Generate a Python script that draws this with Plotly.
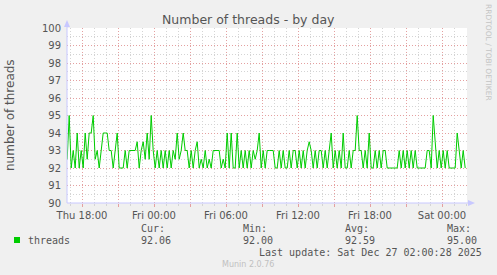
import plotly.graph_objects as go
import pandas as pd

# ---------------- data ----------------
start_time = "2025-12-25 16:46"
step = "10min"
threads = [
    92.5, 95, 92, 93, 92, 94, 92, 93, 92, 94, 92.5, 94, 94, 95, 92.5, 93, 92, 93, 94, 94,
    94, 93, 93, 92, 93, 94, 92, 92, 92, 93, 92, 93, 93, 93,
    93, 93.5, 92, 93, 93.5, 92.5, 94, 92.5, 95, 93, 92, 93, 92, 93, 92, 93, 92, 93, 92, 93,
    92.5, 94, 92.5, 93, 94, 93, 93, 92, 93, 92, 93, 93.5, 92, 92.5,
    92, 93, 92, 92.5, 92, 93, 93, 93, 93, 92, 92.5, 92, 94, 92, 94, 92, 92, 94, 92, 93,
    92, 93, 92, 93, 92, 93, 92.5, 93, 94, 92, 93, 92, 93, 93,
    93, 93, 92, 92, 93, 92, 93, 92, 92, 93, 92, 93, 93, 92, 93, 92, 93, 92, 93, 93.5,
    93, 92, 93, 92, 93, 93, 92, 93, 92, 93, 94, 92, 93, 92,
    93, 92, 94, 92, 92, 93, 92, 93, 93, 95, 93, 93, 92, 93, 92, 94, 92, 92, 93, 92,
    93, 92, 93, 93, 92, 92, 92, 92, 92, 92, 93, 92, 93, 92,
    93, 92, 93, 92, 93, 92, 92, 92, 92, 92, 93, 93, 92, 95, 93.5, 92, 93, 92, 93, 92,
    93, 92, 92, 92, 92, 94, 93, 92, 93, 92,
]
x_range = ["2025-12-25 16:45", "2025-12-27 02:05"]
tick_times = [
    "2025-12-25 18:00", "2025-12-25 21:00", "2025-12-26 00:00", "2025-12-26 03:00",
    "2025-12-26 06:00", "2025-12-26 09:00", "2025-12-26 12:00", "2025-12-26 15:00",
    "2025-12-26 18:00", "2025-12-26 21:00", "2025-12-27 00:00",
]
tick_labels = [
    "Thu 18:00", "", "Fri 00:00", "", "Fri 06:00", "", "Fri 12:00", "",
    "Fri 18:00", "", "Sat 00:00",
]
y_ticks = [90, 91, 92, 93, 94, 95, 96, 97, 98, 99, 100]
series_name = "threads"
stat_names = ["Cur:", "Min:", "Avg:", "Max:"]
stat_values = ["92.06", "92.00", "92.59", "95.00"]
title_text = "Number of threads - by day"
y_title = "number of threads"
last_update = "Last update: Sat Dec 27 02:00:28 2025"
footer = "Munin 2.0.76"
side_text = "RRDTOOL / TOBI OETIKER"

# ---------------- figure ----------------
W, H = 497, 275
L, R, T, B = 67, 467, 28, 203
GREEN = "#00cc00"
TXT = "#555555"
AXIS = "#c8c8ff"
SANS = "DejaVu Sans"
MONO = "DejaVu Sans Mono"


def px(x):
    return (x - L) / (R - L)


def py(y):
    return (B - y) / (B - T)


times = pd.date_range(start_time, periods=len(threads), freq=step)

fig = go.Figure()
fig.add_trace(go.Scatter(
    x=times, y=threads, mode="lines",
    line=dict(color=GREEN, width=1), hoverinfo="skip", showlegend=False,
))

fig.update_layout(
    width=W, height=H, autosize=False,
    margin=dict(l=L, r=W - R, t=T, b=H - B, pad=0),
    paper_bgcolor="#f0f0f0", plot_bgcolor="#ffffff",
    showlegend=False,
    font=dict(family=SANS, size=10, color=TXT),
)
fig.update_xaxes(
    range=x_range, tickmode="array", tickvals=tick_times, ticktext=tick_labels,
    showgrid=True, gridcolor="#e4a0a0", griddash="1px,2px", gridwidth=1,
    ticks="outside", ticklen=3, tickcolor="#e4a0a0",
    tickfont=dict(family=SANS, size=10, color=TXT),
    minor=dict(dtick=3600000, tick0="2025-12-25 18:00", showgrid=True,
               gridcolor="#d4d4d4", griddash="1px,2px", ticks="outside",
               ticklen=2, tickcolor="#d4d4d4"),
    showline=False, zeroline=False, fixedrange=True,
)
fig.update_yaxes(
    range=[y_ticks[0], y_ticks[-1]], tickmode="array", tickvals=y_ticks,
    ticktext=[str(v) for v in y_ticks],
    showgrid=True, gridcolor="#e4a0a0", griddash="1px,2px", gridwidth=1,
    ticks="outside", ticklen=3, tickcolor="#f0f0f0",
    tickfont=dict(family=SANS, size=10, color=TXT),
    minor=dict(dtick=0.5, tick0=90, showgrid=True, gridcolor="#d4d4d4",
               griddash="1px,2px"),
    showline=False, zeroline=False, fixedrange=True,
)

shapes = [
    dict(type="line", xref="paper", yref="paper", x0=0, x1=0, y0=0, y1=py(24),
         line=dict(color=AXIS, width=1)),
    dict(type="path", xref="paper", yref="paper",
         path=f"M {px(64)} {py(27)} L {px(70)} {py(27)} L {px(67)} {py(20)} Z",
         fillcolor=AXIS, line=dict(width=0)),
    dict(type="line", xref="paper", yref="paper", x0=0, x1=px(470), y0=0, y1=0,
         line=dict(color=AXIS, width=1)),
    dict(type="path", xref="paper", yref="paper",
         path=f"M {px(468)} {py(200)} L {px(468)} {py(206)} L {px(475)} {py(203)} Z",
         fillcolor=AXIS, line=dict(width=0)),
    dict(type="rect", xref="paper", yref="paper", x0=px(14), x1=px(20),
         y0=py(243), y1=py(237), fillcolor=GREEN, line=dict(width=0)),
]
fig.update_layout(shapes=shapes)

ann = []


def text(x, y, s, size=10, family=SANS, color=TXT, xanchor="left", angle=0):
    ann.append(dict(x=px(x), y=py(y), xref="paper", yref="paper", text=s,
                    showarrow=False, xanchor=xanchor, yanchor="middle", align="left",
                    textangle=angle, borderpad=0,
                    font=dict(family=family, size=size, color=color)))


text(248, 19, title_text, size=12.5, xanchor="center")
text(10, 115, y_title, size=12, xanchor="center", angle=-90)
text(489, 52, side_text, size=7.5, color="#c4c4c4", xanchor="center", angle=90)
text(27, 240, series_name, family=MONO)
stat_x = [139.5, 241.5, 344, 445.5]
for sx, nm, val in zip(stat_x, stat_names, stat_values):
    text(sx, 228, nm, family=MONO)
    text(sx, 240, val, family=MONO)
text(483, 252, last_update, family=MONO, xanchor="right")
text(248, 264, footer, size=8, color="#c0c0c0", xanchor="center")
fig.update_layout(annotations=ann)

fig.write_html("out.html")
